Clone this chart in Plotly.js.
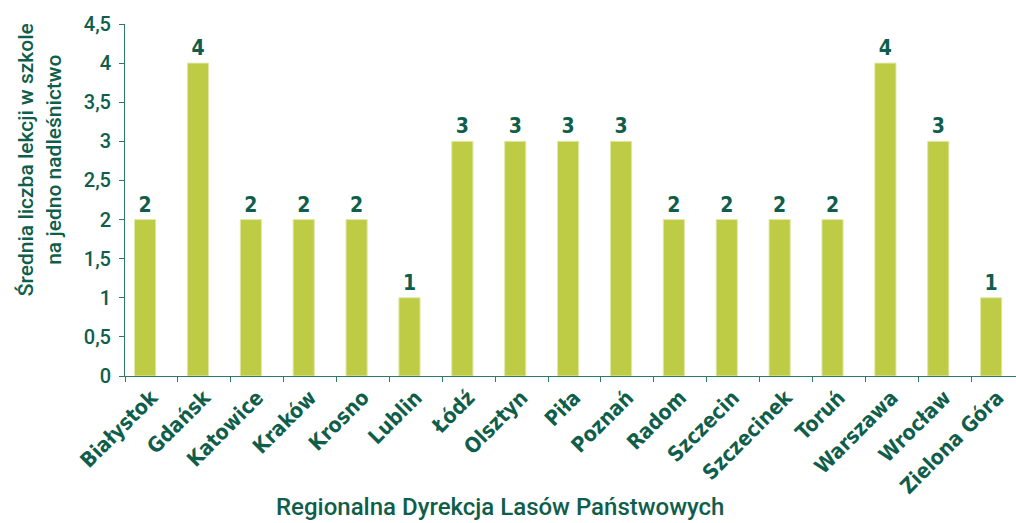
<!DOCTYPE html>
<html>
<head>
<meta charset="utf-8">
<script src="https://cdn.plot.ly/plotly-3.0.1.min.js"></script>
<style>html,body{margin:0;padding:0;background:#fff;}#chart{width:1016px;height:523px;}</style>
</head>
<body>
<div id="chart"></div>
<script>
const categories = ["Białystok","Gdańsk","Katowice","Kraków","Krosno","Lublin","Łódź","Olsztyn","Piła","Poznań","Radom","Szczecin","Szczecinek","Toruń","Warszawa","Wrocław","Zielona Góra"];
const values = [2,4,2,2,2,1,3,3,3,3,2,2,2,2,4,3,1];
const labels = ["2","4","2","2","2","1","3","3","3","3","2","2","2","2","4","3","1"];
const yTitle = "Średnia liczba lekcji w szkole<br>na jedno nadleśnictwo";
const xTitle = "Regionalna Dyrekcja Lasów Państwowych";

const green = "#0f5e4b";
const font = "Roboto, 'Noto Sans', sans-serif";
const narrow = "'DejaVu Sans Condensed', Roboto, sans-serif";

const trace = {
  type: "bar",
  x: categories,
  y: values,
  text: labels,
  textposition: "outside",
  cliponaxis: false,
  textfont: {family: narrow, size: 21, color: green, weight: 700},
  width: 0.4,
  offset: -0.32,
  marker: {color: "#bdcc44", line: {color: "#e1e8a8", width: 1}},
  hoverinfo: "none"
};

const layout = {
  width: 1016, height: 523,
  margin: {l: 124.5, r: 0, t: 24, b: 146.5},
  paper_bgcolor: "#fff", plot_bgcolor: "#fff",
  separators: ", ",
  showlegend: false,
  font: {family: font, color: green},
  xaxis: {
    type: "category",
    range: [-0.5, 16.35],
    tickson: "boundaries",
    ticks: "outside", ticklen: 5, tickcolor: "#2e7a66", tickwidth: 1,
    showline: true, linecolor: "#2e7a66", linewidth: 1,
    showgrid: false, zeroline: false,
    tickangle: -45,
    tickfont: {family: narrow, size: 21, color: green, weight: 700},
    automargin: false
  },
  yaxis: {
    range: [0, 4.5],
    dtick: 0.5, tick0: 0,
    ticks: "outside", ticklen: 5, tickcolor: "#2e7a66", tickwidth: 1,
    showline: true, linecolor: "#2e7a66", linewidth: 1,
    showgrid: false, zeroline: false,
    tickfont: {family: font, size: 20, color: green, weight: 500},
    ticklabelstandoff: 4,
    automargin: false
  },
  annotations: [
    {text: yTitle, xref: "paper", yref: "paper", x: -0.095, y: 0.614, xanchor: "center", yanchor: "middle",
     textangle: -90, showarrow: false, font: {family: font, size: 21, color: green, weight: 500}},
    {text: xTitle, xref: "paper", yref: "paper", x: 0.4206, y: -0.373, xanchor: "center", yanchor: "middle",
     showarrow: false, font: {family: font, size: 24, color: green, weight: 500}}
  ]
};

Plotly.newPlot("chart", [trace], layout, {staticPlot: true, displayModeBar: false});
</script>
</body>
</html>
